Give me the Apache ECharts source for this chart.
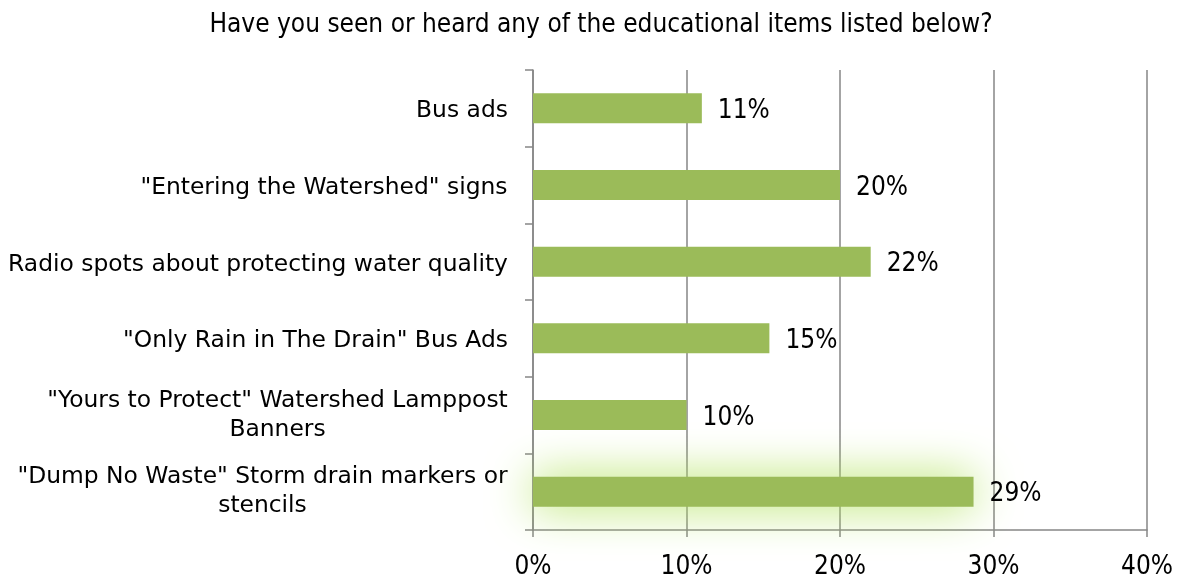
<!DOCTYPE html>
<html>
<head>
<meta charset="utf-8">
<script src="https://cdn.jsdelivr.net/npm/echarts@6/dist/echarts.min.js"></script>
<style>html,body{margin:0;padding:0;background:#fff;}#c{width:1179px;height:580px;}</style>
</head>
<body>
<div id="c"></div>
<script>
const titleText = 'Have you seen or heard any of the educational items listed below?';
// top to bottom
const categories = [
  'Bus ads',
  '"Entering the Watershed" signs',
  'Radio spots about protecting water quality',
  '"Only Rain in The Drain" Bus Ads',
  '"Yours to Protect" Watershed Lamppost\nBanners',
  '"Dump No Waste" Storm drain markers or\nstencils'
];
const values = [11, 20, 22, 15.4, 10, 28.7];
const xTicks = [0, 10, 20, 30, 40];

const catSize = 23.4;
const catFamily = 'DejaVu Sans';
const condFamily = '"DejaVu Sans Condensed", "DejaVu Sans"';
const ctx = document.createElement('canvas').getContext('2d');
ctx.font = catSize + 'px "' + catFamily + '"';
const baseRich = { fontSize: catSize, fontFamily: catFamily, color: '#000', lineHeight: 29 };
function catItem(name) {
  const lines = name.split('\n');
  const w = Math.ceil(Math.max(...lines.map(l => ctx.measureText(l).width)));
  const single = lines.length === 1;
  return {
    value: name,
    textStyle: {
      rich: {
        a: Object.assign({}, baseRich, { width: w, align: 'center' }, single ? { padding: [6, 0, 0, 0] } : {}),
        b: Object.assign({}, baseRich, { width: w, align: 'center' })
      }
    }
  };
}
const yData = categories.slice().reverse().map(catItem);
const yVals = values.slice().reverse();

const chart = echarts.init(document.getElementById('c'), null, { renderer: 'canvas' });
chart.setOption({
  animation: false,
  title: {
    text: titleText, left: 596, top: 7, textAlign: 'center',
    textStyle: { fontFamily: condFamily, fontSize: 26, fontWeight: 'normal', color: '#000' }
  },
  grid: { left: 533, right: 32, top: 70, bottom: 48, containLabel: false },
  xAxis: {
    type: 'value', min: xTicks[0], max: xTicks[xTicks.length - 1], interval: 10,
    axisLine: { show: true, lineStyle: { color: '#868686', width: 1.5 } },
    axisTick: { show: true, length: 7, lineStyle: { color: '#868686', width: 1.5 } },
    splitLine: { show: true, lineStyle: { color: '#868686', width: 1.5 } },
    axisLabel: { formatter: v => v + '%', margin: 24, fontFamily: condFamily, fontSize: 26, color: '#000' }
  },
  yAxis: {
    type: 'category', data: yData,
    axisLine: { show: true, lineStyle: { color: '#868686', width: 1.5 } },
    axisTick: { show: true, length: 8, lineStyle: { color: '#868686', width: 1.5 } },
    axisLabel: {
      margin: 25, fontFamily: catFamily, fontSize: catSize, color: '#000', lineHeight: 29,
      formatter: function (v) {
        return v.split('\n').map((l, i) => '{' + (i === 0 ? 'a' : 'b') + '|' + l + '}').join('\n');
      }
    }
  },
  series: [{
    type: 'bar', barWidth: 30,
    data: yVals.map((v, i) => i === 0 ? {
      value: v,
      itemStyle: { color: '#9BBB59', shadowBlur: 46, shadowColor: 'rgba(178,226,95,1)' }
    } : v),
    itemStyle: { color: '#9BBB59' },
    label: {
      show: true, position: 'right', distance: 16, offset: [0, 3],
      formatter: p => Math.round(p.value) + '%',
      fontFamily: condFamily, fontSize: 26, color: '#000'
    }
  }]
});
</script>
</body>
</html>
